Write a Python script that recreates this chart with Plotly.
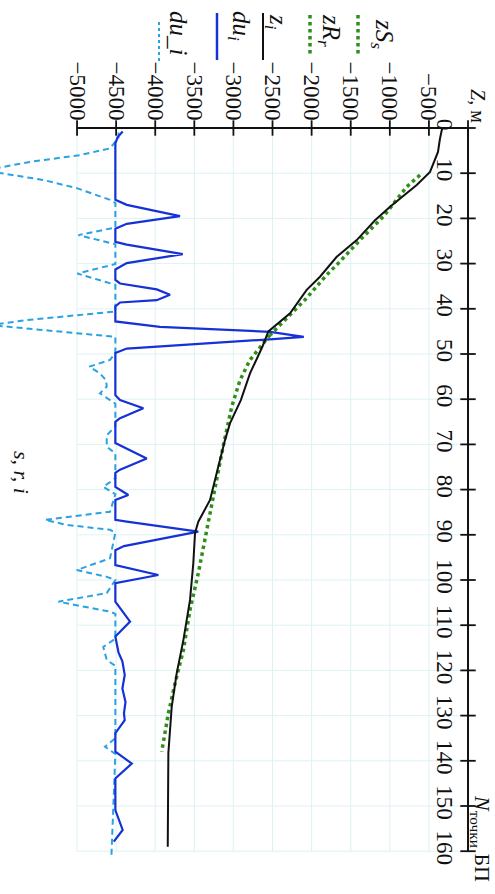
import plotly.graph_objects as go

# ---------------- data ----------------
z_ticks = [-5000, -4500, -4000, -3500, -3000, -2500, -2000, -1500, -1000, -500]
z_ticktext = ["\u2212" + str(abs(v)) for v in z_ticks]
n_ticks = list(range(0, 161, 10))

# z_i (black solid)
N_z = [0, 1.2, 2.5, 5.3, 9.7, 12.6, 17.4, 20.4, 24.8, 28.5, 32.9, 35.8, 41, 45, 48.4,
       54.3, 60.2, 65.3, 69, 74.9, 82.3, 87.1, 89.6, 96.3, 104.4, 113.3, 120.6, 128,
       133.8, 138.3, 159]
z_i = [-330, -345, -360, -384, -486, -656, -997, -1189, -1423, -1679, -1893, -2063,
       -2276, -2553, -2630, -2788, -2905, -3043, -3107, -3193, -3299, -3449, -3491,
       -3513, -3555, -3640, -3725, -3789, -3811, -3832, -3840]

# zS_s (green dotted)
N_zs = [10.4, 13, 19.6, 24.4, 29.9, 32.5, 38, 42.8, 45.8]
zS_s = [-614, -784, -1083, -1360, -1658, -1807, -2084, -2362, -2532]

# zR_r (green dotted)
N_zr = [45.8, 51.3, 55.8, 61.7, 70.6, 76, 81.6, 87.5, 92.6, 98.5, 106.6, 115.5,
        122.9, 129.5, 138]
zR_r = [-2532, -2788, -2916, -3022, -3133, -3193, -3257, -3321, -3385, -3449, -3555,
        -3640, -3747, -3832, -3917]

# du_i (blue solid)
N_du = [0.8, 2, 3.4, 15.9, 17, 19.5, 21.2, 22.3, 25.2, 25.8, 27.9, 29.9, 31.3, 33.6,
        34.4, 35.7, 36.9, 38.1, 38.6, 39.5, 42.8, 44.0, 45.1, 46.2, 46.8, 48.8, 49.8,
        59.1, 60.2, 62, 64.2, 65, 69.7, 73.1, 75.6, 76.3, 79.4, 81.2, 82.3, 86.7, 87.1,
        89.3, 92.5, 93.4, 96.7, 98.9, 100.7, 104.8, 109.2, 112.5, 116, 118, 121, 124,
        127, 129.5, 131, 133.9, 138, 140.6, 143.9, 150.9, 155.3, 157.9]
du_i = [-4416, -4480, -4510, -4510, -4364, -3683, -4364, -4510, -4510, -4364, -3648,
        -4364, -4510, -4510, -4450, -3981, -3811, -3981, -4450, -4510, -4510, -3940,
        -2530, -2100, -2580, -4364, -4510, -4510, -4450, -4152, -4450, -4510, -4510,
        -4109, -4450, -4510, -4510, -4344, -4510, -4510, -4364, -3449, -4400, -4510,
        -4510, -3960, -4510, -4510, -4322, -4510, -4470, -4420, -4390, -4420, -4380,
        -4400, -4390, -4510, -4510, -4300, -4510, -4510, -4416, -4530]

# du_i (light blue dashed)
N_du2 = [1, 2.2, 4.5, 6, 7.5, 9.4, 11.5, 13.3, 15.9, 16.6, 22, 23.7, 25.7, 30.1, 32.2,
         34.7, 40.6, 42.5, 43.6, 44.7, 45.4, 46.2, 49.8, 51.3, 52.8, 54.3, 55.8, 57.2,
         58.7, 61, 66, 68, 70.5, 72, 77.5, 79.4, 81, 84.9, 86.7, 87.8, 88.9, 89.5,
         95.2, 97.8, 99.3, 100, 102.9, 104.8, 107, 107.5, 113, 114.8, 117.7, 119, 135,
         136.9, 138.5, 161]
du_i2 = [-4470, -4470, -4578, -4962, -5601, -6185, -5431, -5004, -4578, -4510, -4510,
         -4983, -4510, -4510, -4996, -4510, -4510, -5644, -6110, -5431, -5090, -4510,
         -4510, -4578, -4842, -4706, -4629, -4620, -4706, -4510, -4510, -4620, -4620,
         -4510, -4510, -4664, -4510, -4578, -5409, -5132, -4578, -4510, -4578, -5004,
         -4620, -4510, -4620, -5239, -4578, -4510, -4510, -4664, -4620, -4510, -4510,
         -4642, -4510, -4560]

legend_labels = ["<i>zS</i><sub><i>s</i></sub>", "<i>zR</i><sub><i>r</i></sub>",
                 "<i>z</i><sub><i>i</i></sub>", "<i>du</i><sub><i>i</i></sub>",
                 "<i>du_i</i>"]

# ---------------- styling ----------------
W, H = 495, 894
SERIF = "Liberation Serif, Times New Roman, DejaVu Serif, serif"
C_BLACK = "#111111"
C_GREEN = "#2f8f1a"
C_BLUE = "#1632d6"
C_LBLUE = "#2aa2e2"
C_GRID = "#ddf2f4"


def px(x):
    return x / W


def py(y):
    return 1 - y / H


fig = go.Figure()

fig.add_trace(go.Scatter(x=zS_s, y=N_zs, mode="lines",
                         line=dict(color=C_GREEN, width=3.5, dash="dot")))
fig.add_trace(go.Scatter(x=zR_r, y=N_zr, mode="lines",
                         line=dict(color=C_GREEN, width=3.5, dash="dot")))
fig.add_trace(go.Scatter(x=du_i2, y=N_du2, mode="lines",
                         line=dict(color=C_LBLUE, width=2, dash="6px,4px")))
fig.add_trace(go.Scatter(x=du_i, y=N_du, mode="lines",
                         line=dict(color=C_BLUE, width=2.2)))
fig.add_trace(go.Scatter(x=z_i, y=N_z, mode="lines",
                         line=dict(color=C_BLACK, width=2)))

# crossing tick marks on the axes
fig.add_trace(go.Scatter(x=z_ticks + [0], y=[0] * (len(z_ticks) + 1), mode="markers",
                         marker=dict(symbol="line-ns", size=11,
                                     line=dict(color=C_BLACK, width=1.8)),
                         cliponaxis=False))
fig.add_trace(go.Scatter(x=[0] * len(n_ticks), y=n_ticks, mode="markers",
                         marker=dict(symbol="line-ew", size=11,
                                     line=dict(color=C_BLACK, width=1.8)),
                         cliponaxis=False))

shapes = []
# grid
for z in z_ticks + [0]:
    shapes.append(dict(type="line", xref="x", yref="y", x0=z, x1=z, y0=0, y1=160,
                       line=dict(color=C_GRID, width=1), layer="below"))
for n in n_ticks:
    shapes.append(dict(type="line", xref="x", yref="y", x0=-5000, x1=0, y0=n, y1=n,
                       line=dict(color=C_GRID, width=1), layer="below"))
# axis lines
shapes.append(dict(type="line", xref="x", yref="y", x0=-5000, x1=0, y0=0, y1=0,
                   line=dict(color=C_BLACK, width=2)))
shapes.append(dict(type="line", xref="x", yref="y", x0=0, x1=0, y0=0, y1=160,
                   line=dict(color=C_BLACK, width=2)))

# legend samples (rotated legend)
leg_x = [358, 310, 263, 217, 159]
leg_y0 = [15, 15, 13, 13, 22]
leg_y1 = [55, 55, 60, 60, 63]
leg_style = [dict(color=C_GREEN, width=3.5, dash="dot"),
             dict(color=C_GREEN, width=3.5, dash="dot"),
             dict(color=C_BLACK, width=2),
             dict(color=C_BLUE, width=2.5),
             dict(color=C_LBLUE, width=2, dash="3px,3px")]
for x, a, b, st in zip(leg_x, leg_y0, leg_y1, leg_style):
    shapes.append(dict(type="line", xref="paper", yref="paper", x0=px(x), x1=px(x),
                       y0=py(a), y1=py(b), line=st))

annotations = []
leg_tx = [383, 329, 277, 239, 179]
leg_ty = [34, 30, 22, 26, 33]
for t, x, y in zip(legend_labels, leg_tx, leg_ty):
    annotations.append(dict(text=t, x=px(x), y=py(y), xref="paper", yref="paper",
                            showarrow=False, textangle=90, xanchor="center",
                            yanchor="middle",
                            font=dict(family=SERIF, size=25, color=C_BLACK)))

annotations.append(dict(text="<i>Z</i>, м", x=px(478), y=py(106), xref="paper",
                        yref="paper", showarrow=False, textangle=90,
                        xanchor="center", yanchor="middle",
                        font=dict(family=SERIF, size=20, color=C_BLACK)))
annotations.append(dict(text="<i>N</i><sub>точки</sub> БП", x=px(481), y=py(838),
                        xref="paper", yref="paper", showarrow=False, textangle=90,
                        xanchor="center", yanchor="middle",
                        font=dict(family=SERIF, size=22, color=C_BLACK)))
annotations.append(dict(text="<i>s, r, i</i>", x=px(22), y=py(472), xref="paper",
                        yref="paper", showarrow=False, textangle=90,
                        xanchor="center", yanchor="middle",
                        font=dict(family=SERIF, size=22, color=C_BLACK)))

fig.update_layout(
    width=W, height=H,
    margin=dict(l=0, r=0, t=0, b=0),
    paper_bgcolor="white", plot_bgcolor="white",
    showlegend=False,
    font=dict(family=SERIF, size=22, color=C_BLACK),
    xaxis=dict(range=[-5985, 345], anchor="free", position=py(128), side="top",
               tickvals=z_ticks, ticktext=z_ticktext, tickangle=90,
               showgrid=False, zeroline=False, showline=False, ticks="",
               ticklabelstandoff=4,
               tickfont=dict(family=SERIF, size=23, color=C_BLACK)),
    yaxis=dict(range=[169.47, -28.32], anchor="free", position=px(468), side="left",
               tickvals=n_ticks, tickangle=90,
               showgrid=False, zeroline=False, showline=False, ticks="",
               ticklabelstandoff=8,
               tickfont=dict(family=SERIF, size=23, color=C_BLACK)),
    shapes=shapes,
    annotations=annotations,
)

fig.write_html("out.html")
